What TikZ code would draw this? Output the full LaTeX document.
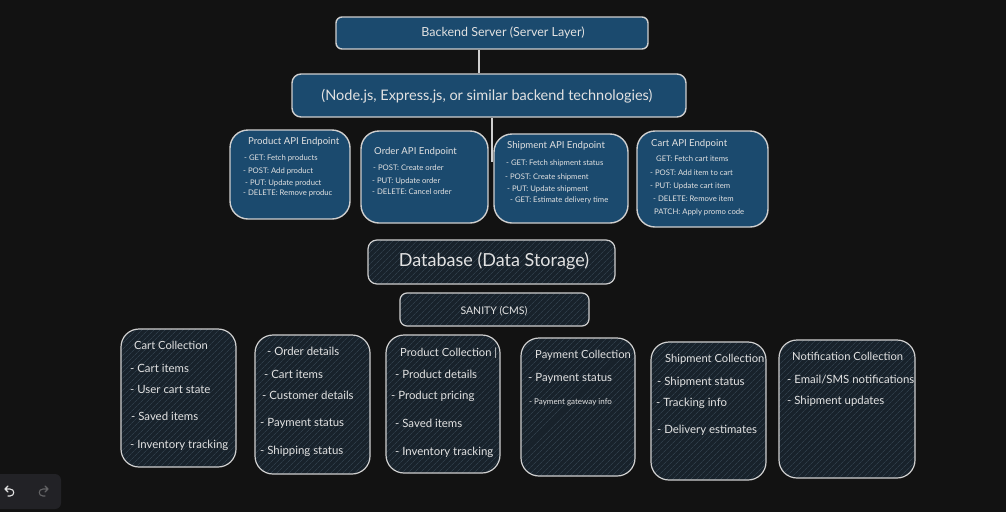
\documentclass[tikz,border=0pt]{standalone}
\usepackage{fontspec}
\setmainfont{Lato}
\usetikzlibrary{patterns.meta}
\definecolor{bg}{HTML}{121212}
\definecolor{bluefill}{HTML}{1B4A6E}
\definecolor{edge}{HTML}{CFCFCF}
\definecolor{txt}{HTML}{E2E2E2}
\definecolor{hatchbase}{HTML}{18222B}
\definecolor{hatchline}{HTML}{2E3C48}
\definecolor{toolbar}{HTML}{222226}
\tikzset{
  bluebox/.style={draw=edge, line width=1.4pt, fill=bluefill},
  hatchbox/.style={draw=edge, line width=1.2pt,
    preaction={fill=hatchbase},
    pattern={Lines[angle=45,distance=4pt,line width=0.7pt]}, pattern color=hatchline},
  lbl/.style={text=txt, inner sep=0pt, anchor=mid west, yshift=-2pt},
  ctr/.style={text=txt, inner sep=0pt, anchor=mid, yshift=-2pt},
  apititle/.style={lbl, font=\fontsize{9.6}{10}\selectfont},
  apiitem/.style={lbl, font=\fontsize{7.7}{8}\selectfont},
  coltitle/.style={lbl, font=\fontsize{11.2}{12}\selectfont},
  colitem/.style={lbl, font=\fontsize{11.4}{13}\selectfont},
}
\begin{document}
\begin{tikzpicture}[x=1pt,y=-1pt]
\fill[bg] (0,0) rectangle (1006,512);
\useasboundingbox (0,0) rectangle (1006,512);

% top boxes
\draw[bluebox, rounded corners=6pt] (336,17) rectangle (648,49);
\node[ctr, font=\fontsize{12.5}{14}\selectfont] (b) at (503,32) {Backend Server (Server Layer)};
\coordinate (bS) at (479,50);
\draw[bluebox, rounded corners=9pt] (292,74) rectangle (686,117);
\node[ctr, font=\fontsize{14.5}{16}\selectfont] (n) at (487,96) {(Node.js, Express.js, or similar backend technologies)};
\coordinate (nN) at (479,73);
\coordinate (nS) at (492,118);
\coordinate (lineEnd) at (492,162);
\draw[edge, line width=1.3pt] (bS) -- (nN);
\draw[edge, line width=1.3pt] (nS) -- (lineEnd);

% API boxes
\draw[bluebox, rounded corners=18pt] (230,130) rectangle (350,219);
\node[apititle] (pt) at (248,140) {Product API Endpoint};
\node[apiitem] (p1) at (244,156) {- GET: Fetch products};
\node[apiitem] (p2) at (243,169) {- POST: Add product};
\node[apiitem] (p3) at (245,181) {- PUT: Update product};
\node[apiitem] (p4) at (243,191) {- DELETE: Remove produc};

\draw[bluebox, rounded corners=18pt] (361,131) rectangle (488,223);
\node[apititle] (ot) at (374,150) {Order API Endpoint};
\node[apiitem] (o1) at (373,166) {- POST: Create order};
\node[apiitem] (o2) at (372,179) {- PUT: Update order};
\node[apiitem] (o3) at (372,190) {- DELETE: Cancel order};

\draw[bluebox, rounded corners=18pt] (494,134) rectangle (628,223);
\node[apititle] (st) at (507,144) {Shipment API Endpoint};
\node[apiitem] (s1) at (506,161) {- GET: Fetch shipment status};
\node[apiitem] (s2) at (505,175) {- POST: Create shipment};
\node[apiitem] (s3) at (507,187) {- PUT: Update shipment};
\node[apiitem] (s4) at (510,198) {- GET: Estimate delivery time};

\draw[bluebox, rounded corners=18pt] (637,131) rectangle (768,227);
\node[apititle] (ct) at (651,142) {Cart API Endpoint};
\node[apiitem] (c1) at (656,157) {GET: Fetch cart items};
\node[apiitem] (c2) at (650,171) {- POST: Add item to cart};
\node[apiitem] (c3) at (650,184) {- PUT: Update cart item};
\node[apiitem] (c4) at (653,197) {- DELETE: Remove item};
\node[apiitem] (c5) at (654,210) {PATCH: Apply promo code};

% database
\draw[hatchbox, rounded corners=9pt] (368,240) rectangle (615,284);
\node[ctr, font=\fontsize{18}{20}\selectfont] (db) at (494,262) {Database (Data Storage)};
\draw[hatchbox, rounded corners=7pt] (400,293) rectangle (589,326);
\node[ctr, font=\fontsize{10.5}{12}\selectfont] (cms) at (494,310) {SANITY (CMS)};

% collections
\draw[hatchbox, rounded corners=18pt] (121,329) rectangle (236,467);
\node[coltitle] (cc) at (134,345) {Cart Collection};
\node[colitem] (cc1) at (130,368) {- Cart items};
\node[colitem] (cc2) at (130,389) {- User cart state};
\node[colitem] (cc3) at (131,416) {- Saved items};
\node[colitem] (cc4) at (130,444) {- Inventory tracking};

\draw[hatchbox, rounded corners=18pt] (255,335) rectangle (370,474);
\node[colitem] (oc1) at (267,351) {- Order details};
\node[colitem] (oc2) at (264,374) {- Cart items};
\node[colitem] (oc3) at (262,395) {- Customer details};
\node[colitem] (oc4) at (260,422) {- Payment status};
\node[colitem] (oc5) at (260,450) {- Shipping status};

\draw[hatchbox, rounded corners=18pt] (386,335) rectangle (500,473);
\node[coltitle] (pc) at (400,352) {Product Collection |};
\node[colitem] (pc1) at (395,374) {- Product details};
\node[colitem] (pc2) at (391,395) {- Product pricing};
\node[colitem] (pc3) at (395,423) {- Saved items};
\node[colitem] (pc4) at (395,451) {- Inventory tracking};

\draw[hatchbox, rounded corners=18pt] (521,338) rectangle (635,476);
\node[coltitle] (yc) at (535,354) {Payment Collection};
\node[colitem] (yc1) at (528,377) {- Payment status};
\node[lbl, font=\fontsize{8}{9}\selectfont] (yc2) at (529,400) {- Payment gateway info};

\draw[hatchbox, rounded corners=18pt] (651,342) rectangle (766,480);
\node[coltitle] (sc) at (665,358) {Shipment Collection};
\node[colitem] (sc1) at (657,381) {- Shipment status};
\node[colitem] (sc2) at (656,402) {- Tracking info};
\node[colitem] (sc3) at (657,429) {- Delivery estimates};

\draw[hatchbox, rounded corners=18pt] (779,340) rectangle (915,478);
\node[coltitle] (nc) at (792,356) {Notification Collection};
\node[colitem] (nc1) at (787,379) {- Email/SMS notifications};
\node[colitem] (nc2) at (787,400) {- Shipment updates};

% toolbar
\fill[toolbar, rounded corners=6pt] (-8,474) rectangle (61,509);
\draw[line width=1.1pt, draw=txt, line cap=round, line join=round]
  (8,486) -- (5,489) -- (8,492) (5,489) -- (10,489) .. controls (15,489) and (15,496) .. (10,496) -- (8,496);
\draw[line width=1.1pt, draw=gray!70!toolbar, line cap=round, line join=round]
  (45,486) -- (48,489) -- (45,492) (48,489) -- (43,489) .. controls (38,489) and (38,496) .. (43,496) -- (45,496);
\end{tikzpicture}
\end{document}
